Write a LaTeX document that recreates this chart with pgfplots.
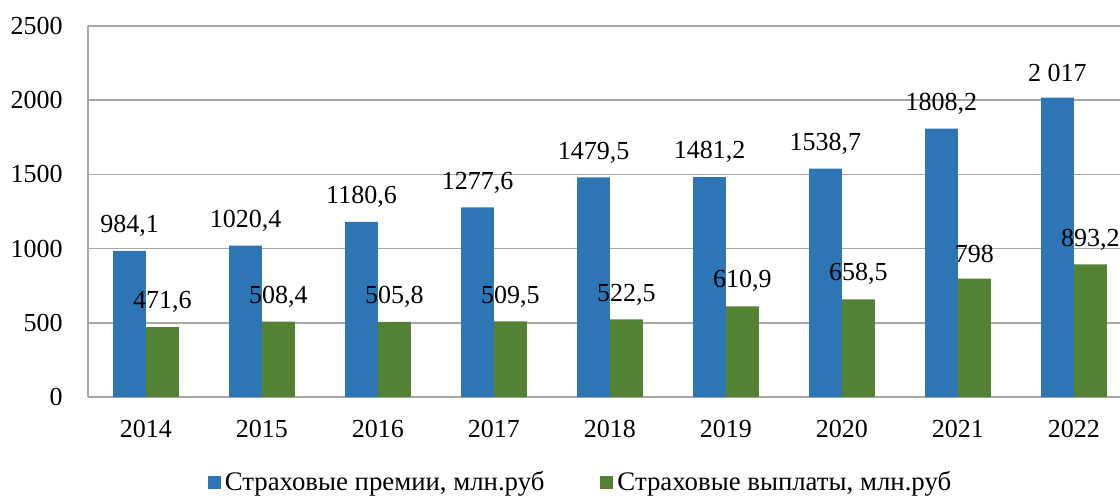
\documentclass[border=0pt]{standalone}
\usepackage{pgfplots}
\pgfplotsset{compat=1.18}
\usepackage{fontspec}
\setmainfont{Liberation Serif}
\definecolor{barblue}{HTML}{2E75B6}
\definecolor{bargreen}{HTML}{548235}
\definecolor{gridgray}{HTML}{A6A6A6}
\begin{document}
\fontsize{13}{15}\selectfont
\begin{tikzpicture}
\begin{axis}[
  at={(0,0)}, anchor=south west,
  scale only axis,
  width=516pt, height=185.5pt,
  xmin=-0.5, xmax=8.397,
  ymin=0, ymax=2500,
  ytick={0,500,1000,1500,2000,2500},
  xtick={0,1,2,3,4,5,6,7,8},
  xticklabels={2014,2015,2016,2017,2018,2019,2020,2021,2022},
  major tick length=0pt,
  axis lines*=left,
  axis line style={gridgray, line width=0.8pt},
  ymajorgrids,
  grid style={gridgray, line width=0.8pt},
  /pgf/number format/assume math mode=true,
  /pgf/number format/1000 sep={},
  tick label style={font=\fontsize{13}{15}\selectfont},
  xticklabel style={anchor=center, yshift=-15.75pt},
  yticklabel style={xshift=-8.2pt},
  ybar=0pt,
  bar width=0.284,
  clip=false,
  nodes near coords,
  point meta=explicit symbolic,
  every node near coord/.append style={anchor=center, yshift=12.5pt, font=\fontsize{13}{15}\selectfont, text=black},
  legend columns=2,
  legend style={at={(0.4782,-0.2318)}, anchor=center, draw=none, fill=none,
    font=\fontsize{13.4}{15}\selectfont,
    /tikz/every even column/.append style={column sep=26pt},
    /tikz/every odd column/.append style={column sep=0pt}},
  legend image code/.code={\fill[#1] (0pt,-2.9pt) rectangle (6.5pt,3.6pt);},
]
\addplot[fill=barblue, draw=none, bar shift=-0.142] coordinates {
  (0,984.1) [984,1]
  (1,1020.4) [1020,4]
  (2,1180.6) [1180,6]
  (3,1277.6) [1277,6]
  (4,1479.5) [1479,5]
  (5,1481.2) [1481,2]
  (6,1538.7) [1538,7]
  (7,1808.2) [1808,2]
  (8,2017) [2 017]
};
\addlegendentry{Страховые премии, млн.руб}
\addplot[fill=bargreen, draw=none, bar shift=0.142] coordinates {
  (0,471.6) [471,6]
  (1,508.4) [508,4]
  (2,505.8) [505,8]
  (3,509.5) [509,5]
  (4,522.5) [522,5]
  (5,610.9) [610,9]
  (6,658.5) [658,5]
  (7,798) [798]
  (8,893.2) [893,2]
};
\addlegendentry{Страховые выплаты, млн.руб}
\end{axis}
\pgfresetboundingbox
\path (-44pt,-49pt) rectangle (516pt,198.5pt);
\end{tikzpicture}
\end{document}
